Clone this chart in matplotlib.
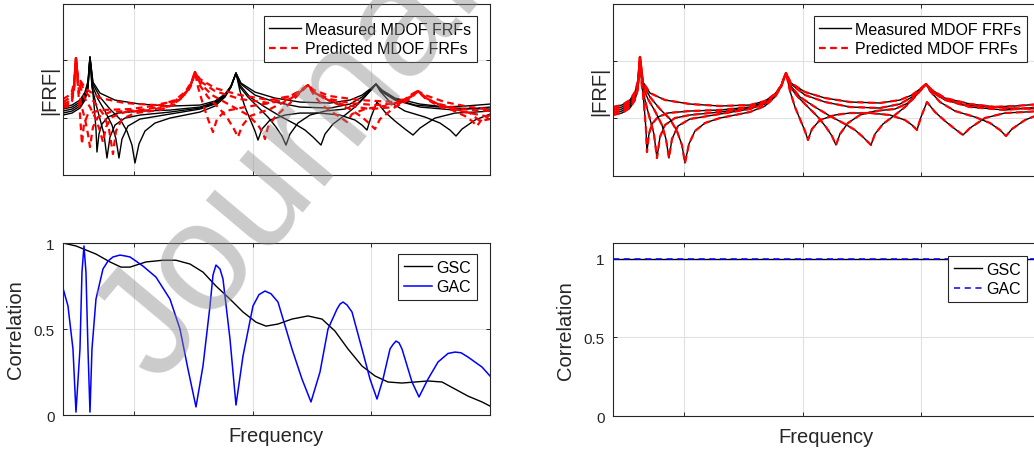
import numpy as np
import matplotlib
matplotlib.use('Agg')
import matplotlib.pyplot as plt

plt.rcParams['font.family'] = ['Liberation Sans', 'DejaVu Sans']

# ---------------- data (frequency in Hz, |FRF| level in dB-like units) ----------------
# measured MDOF FRFs (5 curves)
meas_a_f = [0, 9, 17, 22, 25, 27, 29, 31, 33, 34, 36, 39, 45, 55, 77, 107, 137, 152, 162, 168,
            173, 177, 182, 187, 192, 195, 199, 207, 222, 237, 257, 277, 292, 299, 304, 308, 314, 322, 332, 342,
            350, 357, 372, 392, 412, 427]
meas_a = [11, 13, 18, 26, 37, 61, 34, 14, -11, -34, -16, -6, 1, 5, 7, 8, 11, 16, 23, 32,
          45, 27, 11, -1, -13, -22, -11, -2, 3, 5, 5, 3, -2, -7, -12, 1, 16, 6, -3, -11,
          -17, -10, 0, 5, 6, 7]

meas_b_f = [0, 9, 17, 22, 25, 27, 29, 33, 37, 41, 44, 47, 52, 62, 77, 107, 137, 152, 162, 168,
            173, 177, 185, 195, 205, 213, 219, 223, 227, 235, 247, 262, 282, 295, 303, 309, 313, 317, 327, 342,
            362, 377, 387, 393, 399, 412, 427]
meas_b = [9, 11, 16, 24, 35, 61, 31, 14, -1, -16, -40, -19, -7, 0, 3, 6, 10, 15, 23, 32,
          45, 31, 21, 11, 1, -9, -18, -27, -16, -5, 3, 7, 9, 15, 23, 29, 34, 27, 16, 7,
          1, -5, -12, -18, -11, -2, 4]

meas_c_f = [0, 9, 17, 22, 25, 27, 30, 35, 42, 49, 53, 56, 59, 65, 77, 107, 137, 152, 162, 168,
            173, 177, 187, 202, 217, 232, 242, 250, 258, 262, 270, 282, 292, 300, 307, 313, 319, 332, 352, 377,
            402, 427]
meas_c = [7, 9, 14, 22, 33, 61, 31, 19, 7, -7, -21, -40, -21, -8, -1, 4, 9, 14, 22, 31,
          45, 33, 21, 11, 2, -6, -12, -19, -27, -16, -6, 3, 11, 19, 27, 34, 27, 19, 13, 11,
          12, 14]

meas_d_f = [0, 9, 17, 22, 25, 27, 30, 37, 47, 57, 64, 69, 72, 76, 82, 92, 107, 137, 152, 162,
            168, 173, 178, 192, 212, 237, 267, 287, 299, 307, 313, 319, 332, 357, 392, 427]
meas_d = [5, 7, 12, 20, 31, 61, 34, 21, 9, -1, -13, -27, -45, -26, -13, -5, 0, 6, 12, 21,
          31, 45, 34, 23, 16, 11, 10, 14, 21, 28, 34, 26, 18, 11, 8, 11]

meas_e_f = [0, 9, 17, 22, 25, 27, 30, 37, 52, 77, 107, 137, 152, 162, 168, 173, 178, 192, 212, 237,
            267, 287, 299, 307, 313, 319, 332, 357, 392, 427]
meas_e = [3, 5, 10, 18, 29, 61, 36, 25, 18, 14, 12, 13, 17, 24, 32, 45, 35, 26, 20, 16,
          15, 18, 23, 29, 34, 28, 20, 14, 10, 9]

# predicted MDOF FRFs, initial model (5 curves)
pred_a_f = [0, 5, 9, 11, 13, 15, 17, 19, 21, 25, 37, 67, 97, 112, 122, 128, 132, 135, 140, 145,
            150, 154, 162, 182, 207, 227, 237, 245, 251, 259, 269, 277, 284, 289, 302, 327, 342, 349, 355, 361,
            372, 397, 427]
pred_a = [19, 22, 27, 35, 60, 31, 4, -26, -6, 4, 8, 9, 13, 18, 26, 35, 46, 31, 14, -1,
          -14, -1, 7, 11, 15, 22, 27, 33, 23, 13, 6, 1, -4, 4, 9, 13, 19, 24, 27, 22,
          15, 9, 7]

pred_b_f = [0, 5, 9, 11, 13, 15, 18, 22, 25, 27, 30, 35, 47, 77, 102, 117, 125, 129, 132, 136,
            145, 157, 165, 171, 175, 179, 187, 207, 227, 237, 245, 252, 267, 287, 299, 307, 312, 317, 332, 345,
            351, 355, 360, 372, 387, 402, 409, 414, 419, 427]
pred_b = [16, 19, 24, 32, 60, 34, 14, -1, -16, -29, -9, 1, 6, 8, 12, 19, 27, 34, 46, 34,
          21, 9, -1, -11, -19, -8, 2, 9, 19, 26, 33, 25, 17, 9, 1, -6, -11, -1, 11, 20,
          25, 27, 22, 15, 9, 2, -3, -8, -1, 3]

pred_c_f = [0, 5, 9, 11, 13, 15, 21, 27, 33, 37, 40, 43, 49, 62, 87, 107, 119, 127, 132, 137,
            149, 167, 185, 195, 200, 202, 205, 212, 225, 235, 241, 245, 250, 262, 282, 307, 332, 347, 355, 362,
            377, 402, 427]
pred_c = [14, 16, 21, 30, 60, 37, 21, 11, -1, -13, -24, -9, 1, 6, 8, 12, 20, 31, 46, 35,
          23, 13, 3, -7, -15, -21, -9, 1, 13, 23, 29, 33, 27, 19, 13, 9, 11, 19, 27, 20,
          11, 6, 1]

pred_d_f = [0, 5, 9, 11, 13, 15, 22, 32, 41, 46, 50, 53, 59, 72, 97, 112, 122, 128, 132, 137,
            152, 177, 207, 227, 237, 245, 251, 267, 287, 312, 337, 349, 355, 361, 377, 407, 417, 427]
pred_d = [12, 14, 19, 29, 60, 39, 27, 15, 3, -11, -36, -13, -1, 5, 8, 14, 24, 34, 46, 37,
          27, 19, 15, 19, 26, 33, 26, 19, 15, 13, 15, 22, 27, 21, 13, 5, -3, -1]

pred_e_f = [0, 5, 9, 11, 13, 15, 23, 37, 62, 92, 112, 122, 128, 132, 137, 152, 177, 207, 227, 237,
            245, 251, 267, 297, 332, 347, 355, 362, 382, 407, 427]
pred_e = [10, 12, 17, 27, 60, 41, 29, 20, 15, 13, 17, 25, 34, 46, 39, 30, 23, 18, 22, 27,
          33, 28, 22, 18, 16, 21, 27, 23, 16, 11, 9]

# correlation, initial model
gsc_f = [0, 13, 33, 47, 58, 67, 83, 100, 113, 127, 140, 153, 167, 180, 193, 203, 215, 229, 245, 259,
         272, 285, 299, 312, 325, 339, 352, 365, 379, 392, 405, 419, 427]
gsc = [1.0, 0.983, 0.936, 0.89, 0.86, 0.86, 0.89, 0.9, 0.9, 0.878, 0.831, 0.75, 0.674, 0.599, 0.54,
       0.517, 0.529, 0.558, 0.576, 0.558, 0.488, 0.384, 0.285, 0.227, 0.192, 0.186, 0.192, 0.198,
       0.192, 0.151, 0.11, 0.076, 0.052]

gac_f = [0, 5, 10, 13, 17, 19, 21, 23, 25, 27, 29, 33, 40, 45, 50, 57, 62, 67, 73, 80,
         93, 107, 117, 125, 133, 140, 147, 150, 153, 157, 160, 167, 173, 180, 190, 196, 202, 208, 215, 229,
         239, 248, 257, 265, 274, 277, 280, 284, 289, 299, 307, 314, 320, 327, 330, 333, 336, 339, 349, 356,
         365, 375, 385, 392, 398, 405, 419, 427]
gac = [0.738, 0.634, 0.384, 0.017, 0.384, 0.83, 0.983, 0.83, 0.384, 0.017, 0.384, 0.674, 0.849, 0.895,
       0.919, 0.93, 0.925, 0.919, 0.895, 0.866, 0.802, 0.674, 0.5, 0.267, 0.047, 0.285, 0.634, 0.814,
       0.872, 0.849, 0.791, 0.442, 0.058, 0.343, 0.634, 0.70, 0.721, 0.705, 0.657, 0.384, 0.209, 0.076,
       0.25, 0.5, 0.616, 0.645, 0.657, 0.64, 0.599, 0.384, 0.209, 0.093, 0.209, 0.384, 0.41, 0.43,
       0.42, 0.384, 0.192, 0.105, 0.209, 0.308, 0.358, 0.366, 0.362, 0.337, 0.279, 0.227]

# correlation, updated model
upd_f = [0, 427]
upd_gsc = [1.0, 1.0]
upd_gac = [1.0, 1.0]

meas = [(meas_a_f, meas_a), (meas_b_f, meas_b), (meas_c_f, meas_c), (meas_d_f, meas_d), (meas_e_f, meas_e)]
pred = [(pred_a_f, pred_a), (pred_b_f, pred_b), (pred_c_f, pred_c), (pred_d_f, pred_d), (pred_e_f, pred_e)]

DARK = '#262626'
RED_DASH = (0, (3, 2))


def style_axes(ax, yticks, ylim):
    ax.set_xlim(0, 427)
    ax.set_ylim(*ylim)
    ax.set_xticks([71, 190, 308])
    ax.set_xticklabels([])
    ax.set_yticks(yticks)
    ax.grid(True, color='#e1e1e1', linewidth=0.8)
    ax.set_axisbelow(True)
    ax.tick_params(direction='in', top=True, right=True, length=3, width=0.7,
                   colors=DARK, labelsize=11, pad=6)
    for s in ax.spines.values():
        s.set_color(DARK)
        s.set_linewidth(0.8)


def add_legend(ax, anchor, hl):
    leg = ax.legend(loc='upper right', bbox_to_anchor=anchor, borderaxespad=0,
                    fancybox=False, framealpha=1, edgecolor=DARK, fontsize=11.5,
                    handlelength=hl, handletextpad=0.3, labelspacing=0.3, borderpad=0.35)
    leg.get_frame().set_linewidth(0.8)


def frf_panel(ax, predicted, ylim, yticks):
    for i, (f, v) in enumerate(meas):
        ax.plot(f, v, color='k', lw=1.0, label='Measured MDOF FRFs' if i == 0 else None)
    for i, (f, v) in enumerate(predicted):
        ax.plot(f, v, color='r', lw=1.6, linestyle=RED_DASH,
                label='Predicted MDOF FRFs' if i == 0 else None)
    style_axes(ax, yticks, ylim)
    ax.set_yticklabels([])
    ax.set_ylabel('|FRF|', fontsize=14.5, color=DARK, labelpad=-3)


fig = plt.figure(figsize=(10.34, 4.52), dpi=100)

ax1 = fig.add_axes([0.0609, 0.6106, 0.413, 0.378])
frf_panel(ax1, pred, (-57, 114), [0, 58])
add_legend(ax1, (0.9696, 0.930), 1.95)

ax2 = fig.add_axes([0.5928, 0.6084, 0.413, 0.3805])
frf_panel(ax2, meas, (-58, 114), [0, 57])
add_legend(ax2, (0.9696, 0.930), 1.95)

ax3 = fig.add_axes([0.0609, 0.0796, 0.413, 0.3805])
ax3.plot(gsc_f, gsc, color='k', lw=1.0, label='GSC')
ax3.plot(gac_f, gac, color='b', lw=1.1, label='GAC')
style_axes(ax3, [0, 0.5, 1], (0, 1))
ax3.set_yticklabels(['0', '0.5', '1'])
ax3.set_ylabel('Correlation', fontsize=14.5, color=DARK, labelpad=6)
ax3.set_xlabel('Frequency', fontsize=14.5, color=DARK, labelpad=2)
add_legend(ax3, (0.9696, 0.936), 1.75)

ax4 = fig.add_axes([0.5928, 0.0774, 0.413, 0.3827])
ax4.plot(upd_f, upd_gsc, color='k', lw=1.0, label='GSC')
ax4.plot(upd_f, upd_gac, color='b', lw=1.1, linestyle=(0, (4, 3)), label='GAC')
style_axes(ax4, [0, 0.5, 1], (0, 1.1))
ax4.set_yticklabels(['0', '0.5', '1'])
ax4.set_ylabel('Correlation', fontsize=14.5, color=DARK, labelpad=6)
ax4.set_xlabel('Frequency', fontsize=14.5, color=DARK, labelpad=2)
add_legend(ax4, (0.9696, 0.925), 1.75)

# watermark
fig.text(0.28, 0.64, 'Journal', fontsize=112, rotation=50, color='0.55', alpha=0.45,
         ha='center', va='center', zorder=10)

fig.savefig('out.png', dpi=100)
